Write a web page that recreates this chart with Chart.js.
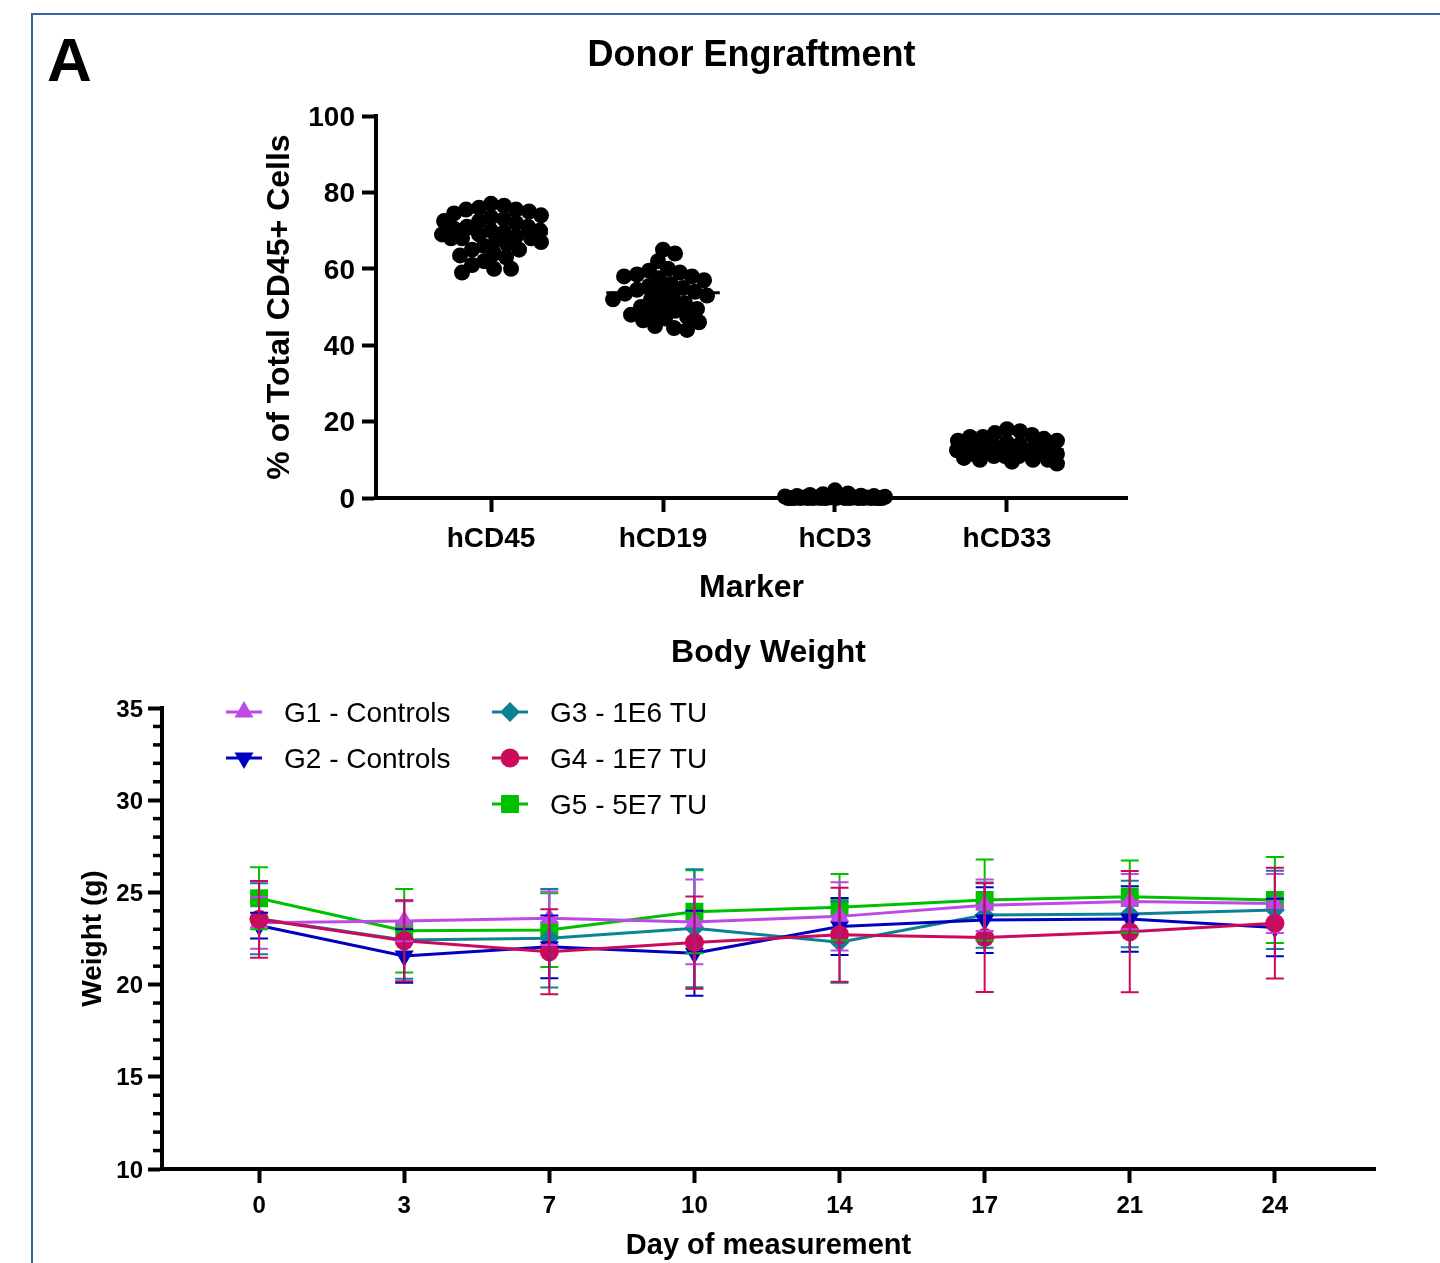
<!DOCTYPE html>
<html>
<head>
<meta charset="utf-8">
<title>Donor Engraftment / Body Weight</title>
<script src="https://cdn.jsdelivr.net/npm/chart.js@4.4.1/dist/chart.umd.min.js"></script>
<style>
  html, body { margin: 0; padding: 0; background: #fff; }
  body { width: 1440px; height: 1263px; position: relative; overflow: hidden;
         font-family: Arial, "Liberation Sans", sans-serif; }
  #frame { position: absolute; left: 31px; top: 13px; width: 1500px; height: 1400px;
           border-left: 2px solid #3b62a6; border-top: 2px solid #3b62a6; }
  #panel { position: absolute; left: 47px; top: 29px; font-size: 62px; font-weight: bold;
           line-height: 62px; color: #000; }
  #engraftment { position: absolute; left: 0; top: 0; }
  #weight { position: absolute; left: 0; top: 610px; }
</style>
</head>
<body>
<div id="frame"></div>
<div id="panel">A</div>
<canvas id="engraftment" width="1440" height="610"></canvas>
<canvas id="weight" width="1440" height="653"></canvas>
<script>
(function () {
  "use strict";

  // --- Donor engraftment (% of total CD45+ cells) ---
  var MARKERS = ["hCD45", "hCD19", "hCD3", "hCD33"];
  var HCD45 = [77, 76.5, 76, 75.5, 75.5, 75, 74.5, 74, 73.5, 73, 72.5, 72.5, 72, 71, 71, 70.5, 70, 70,
               69.5, 69, 69, 68.5, 68, 68, 68, 67.5, 67, 66.5, 66, 65, 65, 64, 63.5, 63, 62, 61, 60, 60, 59];
  var HCD19 = [65, 64, 62, 60, 59.5, 59, 58.5, 58, 58, 57.5, 57, 56, 55.5, 55, 54.5, 54, 54, 53.5,
               53, 52.5, 52, 52, 51, 50.5, 50, 49.5, 49, 48.5, 48, 47.5, 47, 46.5, 46, 45, 44.5, 44];
  var HCD3 = [2, 1.2, 1, 0.8, 0.6, 0.5, 0.5, 0.4, 0.3, 0.3, 0.2, 0.2, 0.1, 0.1, 0.1, 0, 0, 0,
              0, 0, 0, 0, 0, 0, 0, 0, 0, 0, 0, 0, 0, 0];
  var HCD33 = [18, 17.5, 17, 16.5, 16, 16, 15.5, 15, 15, 14.5, 14, 14, 14, 13.5, 13, 13, 13, 12.5,
               12.5, 12, 12, 12, 11.5, 11.5, 11, 11, 11, 10.5, 10, 10, 10, 9.5, 9];
  var MEDIANS = [69.2, 53.7, 0.3, 12.6];
  var ENGRAFT_TICKS = [0, 20, 40, 60, 80, 100];

  // --- Body weight (g), mean and SD per group ---
  var DAYS = [0, 3, 7, 10, 14, 17, 21, 24];
  var G1_MEAN = [23.35, 23.45, 23.6, 23.4, 23.7, 24.3, 24.5, 24.4];
  var G1_SD = [1.4, 1.1, 1.45, 2.3, 1.85, 1.4, 1.5, 1.6];
  var G2_MEAN = [23.2, 21.55, 22.05, 21.7, 23.15, 23.5, 23.56, 23.1];
  var G2_SD = [0.7, 1.45, 1.7, 2.3, 1.55, 1.78, 1.78, 1.56];
  var G3_MEAN = [23.57, 22.42, 22.51, 23.05, 22.3, 23.77, 23.83, 24.05];
  var G3_SD = [1.92, 2.1, 2.67, 3.2, 2.2, 1.77, 1.8, 2.12];
  var G4_MEAN = [23.54, 22.38, 21.78, 22.28, 22.7, 22.55, 22.87, 23.33];
  var G4_SD = [2.08, 2.2, 2.3, 2.5, 2.55, 2.95, 3.29, 3.0];
  var G5_MEAN = [24.68, 22.92, 22.96, 23.95, 24.2, 24.59, 24.77, 24.59];
  var G5_SD = [1.68, 2.26, 2.0, 2.25, 1.8, 2.2, 1.96, 2.33];
  var WEIGHT_TICKS = [10, 15, 20, 25, 30, 35];

  var FONT = "Arial, 'Liberation Sans', sans-serif";
  Chart.defaults.font.family = FONT;
  Chart.defaults.color = "#000";

  function fixedTicks(list) {
    return function (scale) {
      scale.ticks = list.map(function (v) { return { value: v }; });
    };
  }
  function indexTicks(n) {
    var list = [];
    for (var i = 0; i < n; i++) list.push(i);
    return fixedTicks(list);
  }
  function axisStyle(extra) {
    var base = {
      grid: { display: true, drawOnChartArea: false, drawTicks: true, tickLength: 14,
              tickWidth: 4, tickColor: "#000" },
      border: { display: true, width: 4, color: "#000" }
    };
    for (var k in extra) base[k] = extra[k];
    return base;
  }

  // ---------------- Donor engraftment ----------------
  var groupValues = [HCD45, HCD19, HCD3, HCD33];
  var engraftSets = MARKERS.map(function (name, i) {
    return {
      label: name,
      data: groupValues[i].map(function (v) { return { x: i, y: v }; }),
      backgroundColor: "#000",
      borderWidth: 0,
      pointRadius: 8,
      showLine: false,
      clip: false,
      order: 1
    };
  });
  var MEDIAN_HALF = 0.33;
  MEDIANS.forEach(function (m, i) {
    engraftSets.push({
      label: MARKERS[i] + " median",
      type: "line",
      data: [{ x: i - MEDIAN_HALF, y: m }, { x: i + MEDIAN_HALF, y: m }],
      borderColor: "#000",
      borderWidth: 3,
      pointRadius: 0,
      clip: false,
      order: 0
    });
  });

  var engraft = new Chart(document.getElementById("engraftment"), {
    type: "scatter",
    data: { datasets: engraftSets },
    options: {
      responsive: false,
      animation: false,
      events: [],
      layout: { padding: { left: 258.8, right: 313, top: 0, bottom: 2.8 } },
      plugins: {
        legend: { display: false },
        tooltip: { enabled: false },
        title: {
          display: true, text: "Donor Engraftment", fullSize: false, color: "#000",
          font: { size: 36, weight: "bold" }, padding: { top: 34.4, bottom: 38.4 }
        }
      },
      scales: {
        x: axisStyle({
          type: "linear", min: -0.669, max: 3.698,
          afterBuildTicks: indexTicks(MARKERS.length),
          afterFit: function (s) { s.height = 109.2; },
          ticks: { font: { size: 28, weight: "bold" }, color: "#000", padding: 10.2,
                   maxRotation: 0, autoSkip: false,
                   callback: function (v) { return MARKERS[v]; } },
          title: { display: true, text: "Marker", color: "#000",
                   font: { size: 32, weight: "bold" }, padding: 0 }
        }),
        y: axisStyle({
          type: "linear", min: 0, max: 100,
          afterBuildTicks: fixedTicks(ENGRAFT_TICKS),
          afterFit: function (s) { s.width = 117.2; },
          ticks: { font: { size: 28, weight: "bold" }, color: "#000", padding: 7, labelOffset: 2 },
          title: { display: true, text: "% of Total CD45+ Cells", color: "#000",
                   font: { size: 32, weight: "bold" }, padding: { top: 2, bottom: 0 } }
        })
      }
    }
  });

  // spread each column sideways like a scatter dot plot (deterministic beeswarm)
  function swarm(values, center, xs, ys, minDist, maxHalf) {
    var unit = xs.getPixelForValue(center + 1) - xs.getPixelForValue(center);
    var order = values.map(function (v, i) { return i; })
      .sort(function (a, b) { return values[b] - values[a]; });
    var placed = [];
    var out = new Array(values.length);
    order.forEach(function (i) {
      var py = ys.getPixelForValue(values[i]);
      var best = 0, bestGap = -1, found = false;
      for (var k = 0; k <= maxHalf && !found; k++) {
        var cands = k === 0 ? [0] : [k, -k];
        for (var c = 0; c < cands.length; c++) {
          var dx = cands[c];
          var gap = Infinity;
          placed.forEach(function (p) {
            gap = Math.min(gap, Math.sqrt((p.x - dx) * (p.x - dx) + (p.y - py) * (p.y - py)));
          });
          if (gap >= minDist) { best = dx; found = true; break; }
          if (gap > bestGap) { bestGap = gap; best = dx; }
        }
      }
      placed.push({ x: best, y: py });
      out[i] = { x: center + best / unit, y: values[i] };
    });
    return out;
  }
  groupValues.forEach(function (vals, i) {
    engraft.data.datasets[i].data = swarm(vals, i, engraft.scales.x, engraft.scales.y, 12.5, 50);
  });
  engraft.update("none");

  // ---------------- Body weight ----------------
  var GROUPS = [
    { label: "G1 - Controls", mean: G1_MEAN, sd: G1_SD, color: "#c048e6", style: "triangle", rotation: 0, radius: 11, order: 1 },
    { label: "G2 - Controls", mean: G2_MEAN, sd: G2_SD, color: "#0000c0", style: "triangle", rotation: 180, radius: 11, order: 2 },
    { label: "G3 - 1E6 TU", mean: G3_MEAN, sd: G3_SD, color: "#0e8295", style: "rectRot", rotation: 0, radius: 10, order: 3 },
    { label: "G4 - 1E7 TU", mean: G4_MEAN, sd: G4_SD, color: "#cc0a5c", style: "circle", rotation: 0, radius: 9.5, order: 0 },
    { label: "G5 - 5E7 TU", mean: G5_MEAN, sd: G5_SD, color: "#00c000", style: "rect", rotation: 0, radius: 12.7, order: 4 }
  ];
  var LEGEND_SLOTS = [
    { x: 226, y: 102 }, { x: 226, y: 148 },
    { x: 492, y: 102 }, { x: 492, y: 148 }, { x: 492, y: 194 }
  ];

  var errorBars = {
    id: "errorBars",
    afterDatasetsDraw: function (chart) {
      var ctx = chart.ctx, xs = chart.scales.x, ys = chart.scales.y;
      var drawOrder = GROUPS.slice().sort(function (a, b) { return b.order - a.order; });
      ctx.save();
      ctx.lineWidth = 2;
      drawOrder.forEach(function (g) {
        ctx.strokeStyle = g.color;
        g.mean.forEach(function (m, i) {
          var px = xs.getPixelForValue(i);
          var top = ys.getPixelForValue(m + g.sd[i]);
          var bot = ys.getPixelForValue(m - g.sd[i]);
          ctx.beginPath();
          ctx.moveTo(px, top); ctx.lineTo(px, bot);
          ctx.moveTo(px - 9, top); ctx.lineTo(px + 9, top);
          ctx.moveTo(px - 9, bot); ctx.lineTo(px + 9, bot);
          ctx.stroke();
        });
      });
      ctx.restore();
    }
  };

  var minorTicks = {
    id: "minorTicks",
    afterDraw: function (chart) {
      var ctx = chart.ctx, ys = chart.scales.y;
      var right = chart.chartArea.left;
      ctx.save();
      ctx.strokeStyle = "#000";
      ctx.lineWidth = 3.5;
      for (var v = ys.min; v <= ys.max; v++) {
        if (v % 5 === 0) continue;
        var py = ys.getPixelForValue(v);
        ctx.beginPath();
        ctx.moveTo(right - 9, py); ctx.lineTo(right, py);
        ctx.stroke();
      }
      ctx.restore();
    }
  };

  var weightLegend = {
    id: "weightLegend",
    afterDraw: function (chart) {
      var ctx = chart.ctx;
      ctx.save();
      ctx.font = "28px " + FONT;
      ctx.textBaseline = "middle";
      ctx.textAlign = "left";
      LEGEND_SLOTS.forEach(function (slot, i) {
        var g = GROUPS[i];
        ctx.strokeStyle = g.color;
        ctx.lineWidth = 3;
        ctx.beginPath();
        ctx.moveTo(slot.x, slot.y); ctx.lineTo(slot.x + 36, slot.y);
        ctx.stroke();
        ctx.fillStyle = g.color;
        Chart.helpers.drawPoint(ctx, { pointStyle: g.style, rotation: g.rotation,
                                       radius: g.radius, borderWidth: 0 }, slot.x + 18, slot.y);
        ctx.fillStyle = "#000";
        ctx.fillText(g.label, slot.x + 58, slot.y + 2);
      });
      ctx.restore();
    }
  };

  new Chart(document.getElementById("weight"), {
    type: "line",
    data: {
      datasets: GROUPS.map(function (g) {
        return {
          label: g.label,
          data: g.mean.map(function (m, i) { return { x: i, y: m }; }),
          borderColor: g.color,
          backgroundColor: g.color,
          borderWidth: 3,
          pointStyle: g.style,
          rotation: g.rotation,
          pointRadius: g.radius,
          pointBorderWidth: 0,
          fill: false,
          tension: 0,
          order: g.order
        };
      })
    },
    plugins: [errorBars, minorTicks, weightLegend],
    options: {
      responsive: false,
      animation: false,
      events: [],
      layout: { padding: { left: 75.2, right: 65, top: 0, bottom: 0 } },
      plugins: {
        legend: { display: false },
        tooltip: { enabled: false },
        title: {
          display: true, text: "Body Weight", fullSize: false, color: "#000",
          font: { size: 32, weight: "bold" }, padding: { top: 24, bottom: 35.6 }
        }
      },
      scales: {
        x: axisStyle({
          type: "linear", min: -0.669, max: 7.69,
          afterBuildTicks: indexTicks(DAYS.length),
          afterFit: function (s) { s.height = 94; },
          ticks: { font: { size: 24, weight: "bold" }, color: "#000", padding: 8.6,
                   maxRotation: 0, autoSkip: false,
                   callback: function (v) { return String(DAYS[v]); } },
          title: { display: true, text: "Day of measurement", color: "#000",
                   font: { size: 29, weight: "bold" }, padding: 0 }
        }),
        y: axisStyle({
          type: "linear", min: 10, max: 35,
          afterBuildTicks: fixedTicks(WEIGHT_TICKS),
          afterFit: function (s) { s.width = 86.8; },
          ticks: { font: { size: 24, weight: "bold" }, color: "#000", padding: 5, labelOffset: 2 },
          title: { display: true, text: "Weight (g)", color: "#000",
                   font: { size: 28, weight: "bold" }, padding: { top: 1, bottom: 0 } }
        })
      }
    }
  });
})();
</script>
</body>
</html>
